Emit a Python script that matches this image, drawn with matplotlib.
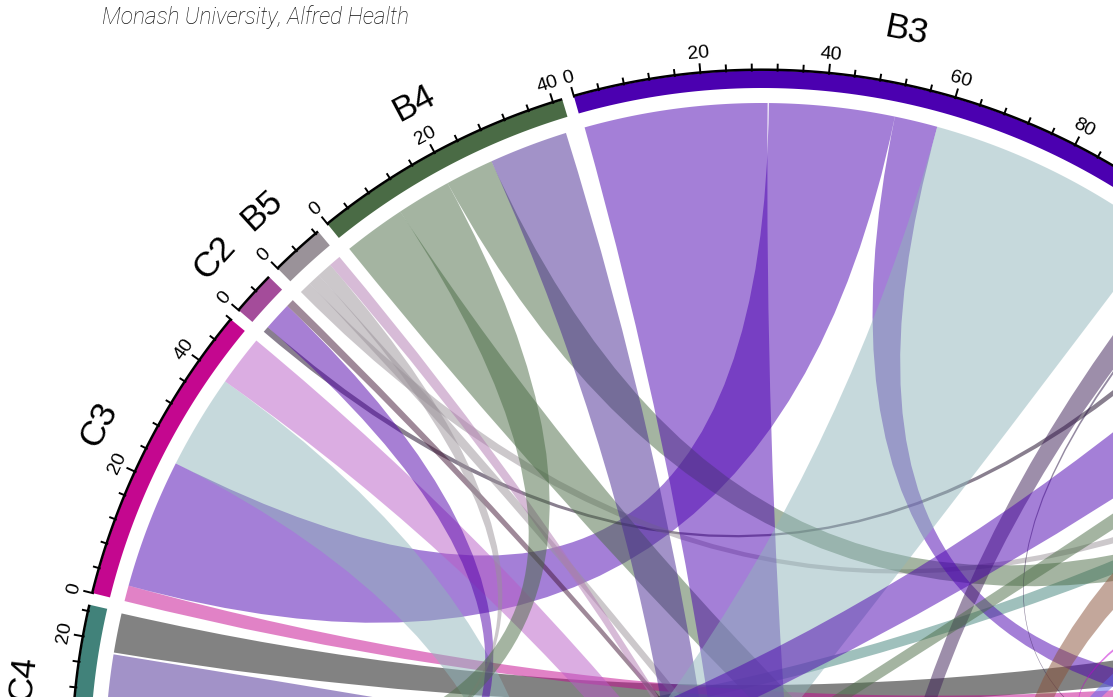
import numpy as np
import matplotlib
matplotlib.use("Agg")
import matplotlib.pyplot as plt
from matplotlib.path import Path
from matplotlib.patches import PathPatch, Polygon

# geometry of the (cropped) circle, in pixels
W, H = 1113, 697
CX, CY = 762, 760
R_OUT, R_IN, R_LINK = 689.5, 672, 657
GAP = 1.0
START = -90.375

# sectors, clockwise from C4
sector_names = ["C4", "C3", "C2", "B5", "B4", "B3", "B2", "B1",
                "A1", "A2", "A3", "A4", "A5", "A6", "C1", "C5"]
sector_sizes = [25, 48, 7, 8.5, 41.5, 101, 28, 28,
                38, 48, 40, 22, 22, 96, 32, 58]
sector_colors = ["#41827a", "#c4078f", "#a44c9a", "#9a9299", "#4a6b45", "#4b00b0",
                 "#3d1f57", "#895139", "#070707", "#472793", "#895139", "#6169f1",
                 "#b95dc7", "#8fb5bb", "#5101ab", "#4a6b45"]

# links: from sector / span, to sector / span, colour
link_from = ["C4", "C4", "C4", "C3", "C3", "C3", "C3", "C2", "C2", "C2",
             "B5", "B5", "B5", "B5", "B4", "B4", "B4", "B4", "B3", "B3",
             "B3", "B2", "B2", "B2", "B1", "B1", "B1", "B1"]
link_from_span = [(0, 4), (5, 18), (18.3, 24.8), (0, 2.6), (2.6, 24), (24, 39.6),
                  (39.6, 48), (0, 1), (1, 5.7), (5.7, 7),
                  (0, 2), (2, 4), (4, 6.5), (6.5, 8.5),
                  (0.2, 10.5), (10.5, 19.5), (19.5, 27.5), (27.5, 40.5),
                  (0.3, 30.5), (51.4, 58.5), (58.5, 98.5),
                  (0, 4), (4, 4.4), (16, 28), (0, 3), (3.5, 10.5), (24, 24.8), (25, 28)]
link_to = ["B1", "A2", "A1", "A1", "B3", "A6", "A5", "B2", "C5", "A4",
           "B1", "A4", "C5", "A5", "A3", "C5", "B1", "A6", "A6", "A1",
           "C1", "A6", "A2", "C5", "C5", "A3", "A2", "A4"]
link_to_span = [(13, 16), (14, 27), (10, 16.5), (18.5, 21.1), (30.7, 51.4), (78, 96),
                (0, 8.5), (10, 11), (24, 29), (12, 13.3),
                (11, 12.5), (8, 10), (46, 47.5), (10, 12),
                (8, 18), (49, 58), (16.5, 23.5), (26, 38),
                (8, 24), (22, 28), (0, 30),
                (0, 5), (4, 4.4), (32, 44), (2, 6), (26, 38), (2, 2.8), (0, 7)]
link_colors = ["#41827a", "#472793", "#070707", "#c4078f", "#4b00b0", "#8fb5bb",
               "#b95dc7", "#150021", "#5101ab", "#411535",
               "#9a9299", "#9a9299", "#9a9299", "#b179b1",
               "#4a6b45", "#4a6b45", "#4a6b45", "#472793",
               "#4b00b0", "#4b00b0", "#8fb5bb",
               "#3d1f57", "#2a1545", "#4b00b0", "#4a6b45", "#895139", "#c100d1", "#6169f1"]

unit = (360 - GAP * len(sector_names)) / sum(sector_sizes)
starts = {}
a = START
for n, s in zip(sector_names, sector_sizes):
    starts[n] = a
    a += s * unit + GAP


def ang(sec, v):
    return starts[sec] + v * unit


def xy(theta, r):
    t = np.radians(theta)
    return CX + r * np.sin(t), CY - r * np.cos(t)


def arc(t0, t1, r, n=80):
    ts = np.linspace(t0, t1, n)
    x, y = xy(ts, r)
    return np.column_stack([x, y])


fig = plt.figure(figsize=(W / 100, H / 100), dpi=100)
ax = fig.add_axes([0, 0, 1, 1])
ax.set_xlim(0, W)
ax.set_ylim(H, 0)
ax.axis("off")

# ribbons (quadratic curves through the centre)
for fs, fsp, ts, tsp, col in zip(link_from, link_from_span, link_to, link_to_span, link_colors):
    a1, a2 = ang(fs, fsp[0]), ang(fs, fsp[1])
    b1, b2 = ang(ts, tsp[0]), ang(ts, tsp[1])
    A = arc(a1, a2, R_LINK)
    B = arc(b1, b2, R_LINK)
    verts = list(A) + [(CX, CY), tuple(B[0])] + list(B[1:]) + [(CX, CY), tuple(A[0]), tuple(A[0])]
    codes = ([Path.MOVETO] + [Path.LINETO] * (len(A) - 1) + [Path.CURVE3, Path.CURVE3]
             + [Path.LINETO] * (len(B) - 1) + [Path.CURVE3, Path.CURVE3, Path.CLOSEPOLY])
    ax.add_patch(PathPatch(Path(verts, codes), facecolor=col, alpha=0.5,
                           edgecolor="none", zorder=1))

# sector tracks, axis line, ticks and labels
for n, s, col in zip(sector_names, sector_sizes, sector_colors):
    t0, t1 = ang(n, 0), ang(n, s)
    poly = np.vstack([arc(t0, t1, R_OUT), arc(t1, t0, R_IN)])
    ax.add_patch(Polygon(poly, closed=True, facecolor=col, edgecolor="none", zorder=3))
    line = arc(t0, t1, R_OUT + 0.8)
    ax.plot(line[:, 0], line[:, 1], color="black", lw=1.8, zorder=4,
            solid_capstyle="butt")
    for v in np.arange(0, s + 1e-6, 4):
        th = ang(n, v)
        major = v % 20 == 0
        x0, y0 = xy(th, R_OUT)
        x1, y1 = xy(th, R_OUT + (9 if major else 6))
        ax.plot([x0, x1], [y0, y1], color="black", lw=1.4, zorder=4)
        if major:
            lx, ly = xy(th, R_OUT + 19.5)
            ax.text(lx, ly, f"{int(v)}", rotation=-th, rotation_mode="anchor",
                    ha="center", va="center", fontsize=14,
                    family="Liberation Sans", color="black", zorder=5)
    mid = ang(n, s / 2)
    lx, ly = xy(mid, 743)
    ax.text(lx, ly, n, rotation=-mid, rotation_mode="anchor", ha="center",
            va="center", fontsize=25.5, family="Liberation Sans", color="black", zorder=5)

fig.text(102 / W, 1 - 17 / H, "Monash University, Alfred Health", ha="left", va="center",
         fontsize=16.3, family="Roboto", style="italic", weight="light", color="#111111")

fig.savefig("out.png", dpi=100)
